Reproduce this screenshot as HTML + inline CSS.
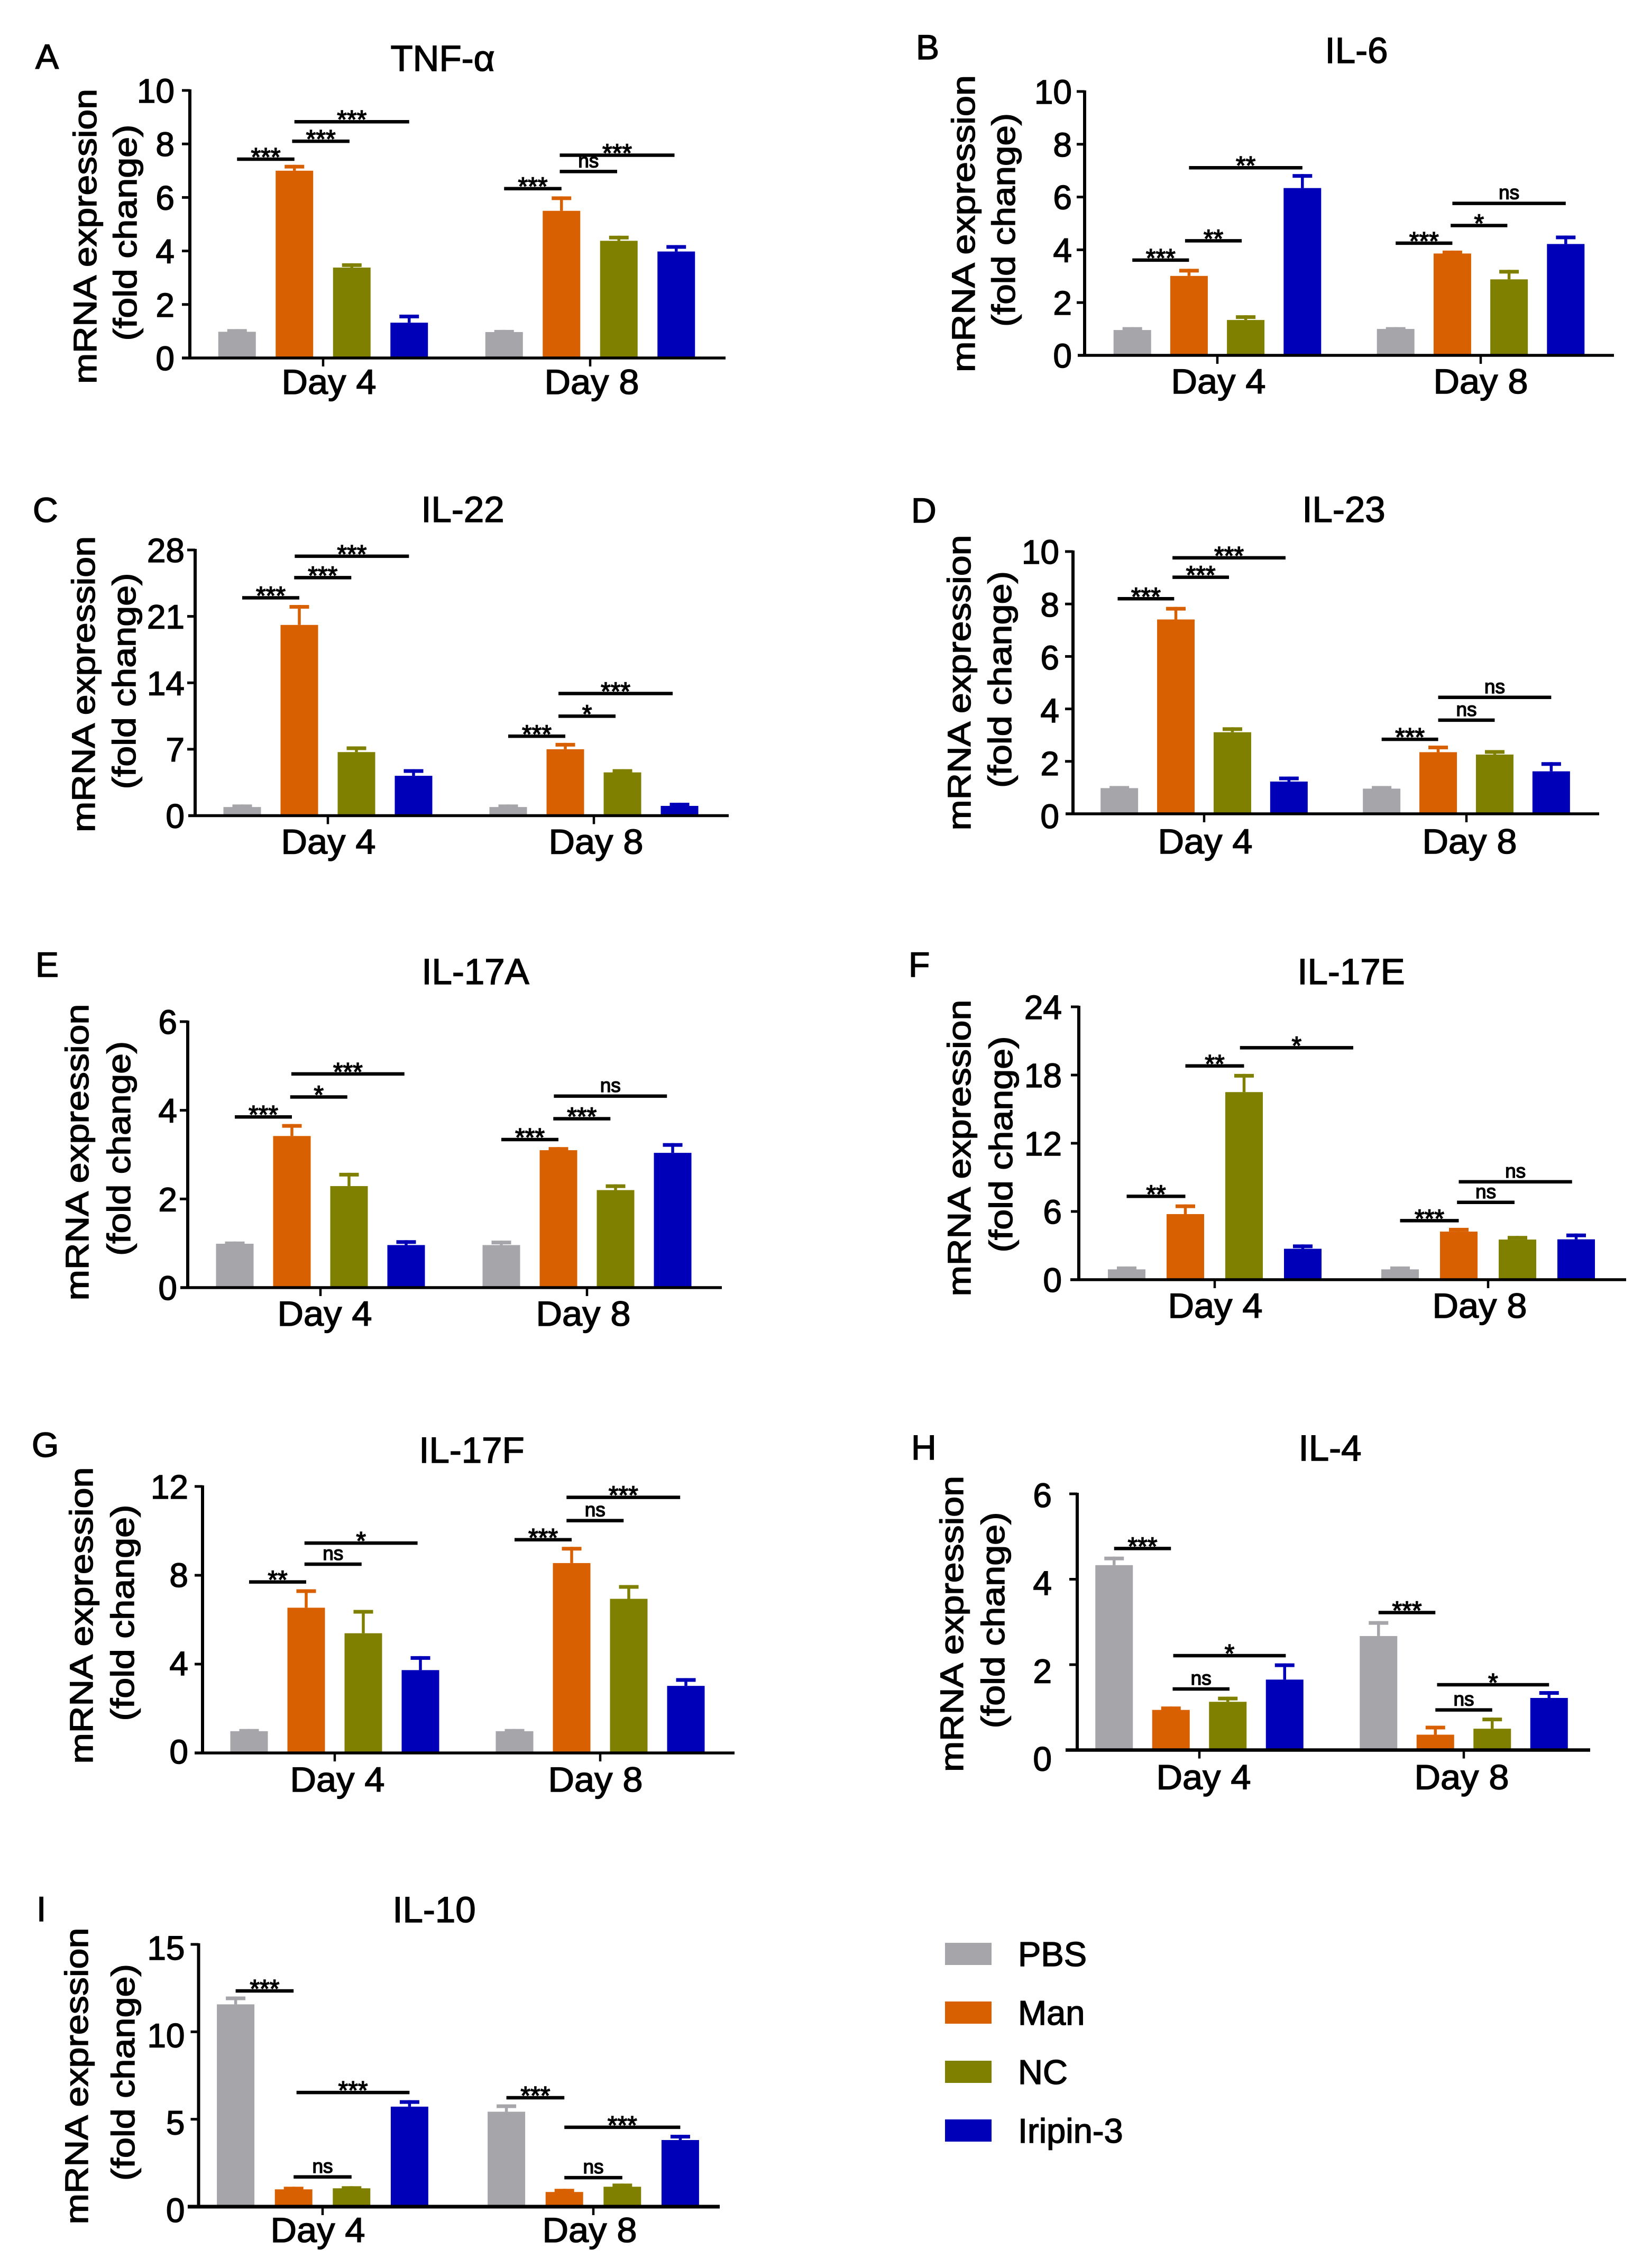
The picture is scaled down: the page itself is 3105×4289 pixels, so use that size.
<!DOCTYPE html>
<html lang="en">
<head>
<meta charset="utf-8">
<title>mRNA expression panels</title>
<style>
html,body{margin:0;padding:0;background:#fff}
svg{display:block}
text{font-family:"Liberation Sans",sans-serif;fill:#000;stroke:#000;stroke-width:1.5px}
</style>
</head>
<body>
<svg id="figure" xmlns="http://www.w3.org/2000/svg" width="3105" height="4289" viewBox="0 0 3105 4289"></svg>
<script>
// ---- shared categories ----
const seriesNames = ['PBS', 'Man', 'NC', 'Iripin-3'];
const seriesColors = ['#a6a6aa', '#d96000', '#808000', '#0000b8'];
const dayLabels = ['Day 4', 'Day 8'];
const yTitleLine1 = 'mRNA expression';
const yTitleLine2 = '(fold change)';

// ---- panel A : TNF-a ----
const tnfTicks = [0, 2, 4, 6, 8, 10];
const tnfDay4 = [0.98, 7.0, 3.38, 1.32];
const tnfDay8 = [0.97, 5.5, 4.38, 3.98];
const tnfDay4Upper = [1.08, 7.22, 3.54, 1.62];
const tnfDay8Upper = [1.05, 6.04, 4.57, 4.22];
const tnfSig = [[0,0,1,7.43,'***'],[0,0.96,1.96,8.1,'***'],[0,1,3,8.83,'***'],[1,0,1,6.33,'***'],[1,0.97,1.97,6.97,'ns'],[1,0.97,2.97,7.58,'***']];
// ---- panel B : IL-6 ----
const il6Ticks = [0, 2, 4, 6, 8, 10];
const il6Day4 = [0.96, 3.01, 1.34, 6.34];
const il6Day8 = [1.0, 3.86, 2.88, 4.22];
const il6Day4Upper = [1.07, 3.28, 1.52, 6.87];
const il6Day8Upper = [1.07, 3.97, 3.24, 4.54];
const il6Sig = [[0,0,1,3.61,'***'],[0,0.93,1.93,4.34,'**'],[0,1,3,7.11,'**'],[1,0,1,4.25,'***'],[1,0.97,1.97,4.92,'*'],[1,1,3,5.76,'ns']];
// ---- panel C : IL-22 ----
const il22Ticks = [0, 7, 14, 21, 28];
const il22Day4 = [0.91, 20.1, 6.7, 4.2];
const il22Day8 = [0.91, 7.0, 4.56, 1.03];
const il22Day4Upper = [1.18, 22.2, 7.3, 4.9];
const il22Day8Upper = [1.18, 7.67, 4.9, 1.36];
const il22Sig = [[0,0,1,22.96,'***'],[0,0.91,1.91,25.08,'***'],[0,0.92,2.92,27.34,'***'],[1,0,1,8.37,'***'],[1,0.88,1.88,10.48,'*'],[1,0.88,2.88,12.87,'***']];
// ---- panel D : IL-23 ----
const il23Ticks = [0, 2, 4, 6, 8, 10];
const il23Day4 = [0.98, 7.41, 3.11, 1.23];
const il23Day8 = [0.96, 2.35, 2.26, 1.62];
const il23Day4Upper = [1.06, 7.89, 3.3, 1.42];
const il23Day8Upper = [1.06, 2.6, 2.43, 1.97];
const il23Sig = [[0,-0.03,0.97,8.2,'***'],[0,0.94,1.94,9.02,'***'],[0,0.94,2.94,9.76,'***'],[1,0,1,2.84,'***'],[1,1,2,3.57,'ns'],[1,1,3,4.44,'ns']];
// ---- panel E : IL-17A ----
const il17aTicks = [0, 2, 4, 6];
const il17aDay4 = [0.99, 3.42, 2.29, 0.96];
const il17aDay8 = [0.96, 3.1, 2.2, 3.04];
const il17aDay4Upper = [1.04, 3.69, 2.59, 1.07];
const il17aDay8Upper = [1.06, 3.17, 2.33, 3.26];
const il17aSig = [[0,0,1,3.85,'***'],[0,0.97,1.97,4.3,'*'],[0,0.99,2.97,4.82,'***'],[1,0,1,3.34,'***'],[1,0.91,1.91,3.81,'***'],[1,0.92,2.9,4.32,'ns']];
// ---- panel F : IL-17E ----
const il17eTicks = [0, 6, 12, 18, 24];
const il17eDay4 = [0.91, 5.77, 16.5, 2.72];
const il17eDay8 = [0.91, 4.23, 3.53, 3.55];
const il17eDay4Upper = [1.16, 6.62, 18.1, 3.1];
const il17eDay8Upper = [1.16, 4.56, 3.85, 4.06];
const il17eSig = [[0,0,1,7.33,'**'],[0,1,2,18.8,'**'],[0,1.93,3.86,20.4,'*'],[1,0,1,5.19,'***'],[1,0.97,1.95,6.8,'ns'],[1,1,2.93,8.61,'ns']];
// ---- panel G : IL-17F ----
const il17fTicks = [0, 4, 8, 12];
const il17fDay4 = [0.98, 6.54, 5.39, 3.73];
const il17fDay8 = [0.98, 8.55, 6.94, 3.02];
const il17fDay4Upper = [1.08, 7.37, 6.44, 4.36];
const il17fDay8Upper = [1.08, 9.28, 7.56, 3.37];
const il17fSig = [[0,0,1,7.7,'**'],[0,0.97,1.97,8.5,'ns'],[0,0.97,2.95,9.45,'*'],[1,0,1,9.6,'***'],[1,0.91,1.91,10.46,'ns'],[1,0.91,2.9,11.51,'***']];
// ---- panel H : IL-4 ----
const il4Ticks = [0, 2, 4, 6];
const il4Day4 = [4.33, 0.94, 1.13, 1.65];
const il4Day8 = [2.67, 0.36, 0.5, 1.22];
const il4Day4Upper = [4.53, 1.02, 1.25, 2.03];
const il4Day8Upper = [3.02, 0.57, 0.76, 1.38];
const il4Sig = [[0,0,1,4.72,'***'],[0,1.03,2.03,1.43,'ns'],[0,1.04,3.02,2.21,'*'],[1,0,1,3.22,'***'],[1,1,2,0.94,'ns'],[1,1.03,3,1.53,'*']];
// ---- panel I : IL-10 ----
const il10Ticks = [0, 5, 10, 15];
const il10Day4 = [11.57, 0.99, 1.05, 5.72];
const il10Day8 = [5.43, 0.84, 1.14, 3.81];
const il10Day4Upper = [12.02, 1.14, 1.17, 6.09];
const il10Day8Upper = [5.85, 1.02, 1.32, 4.11];
const il10Sig = [[0,0,1,12.34,'***'],[0,1,2,1.7,'ns'],[0,1.05,3,6.53,'***'],[1,0,1,6.23,'***'],[1,1,2,1.66,'ns'],[1,1,3,4.54,'***']];

// ---- panels: data + page layout ----
const panels = [
 {id:'a',letter:'A',title:'TNF-α',ticks:tnfTicks,d4:tnfDay4,d8:tnfDay8,u4:tnfDay4Upper,u8:tnfDay8Upper,sig:tnfSig,
  ax:359,top:171,base:677,t1:611,t2:1116,xs:344,xe:1372,step:108.5,pad:29,xlw:5.5,xlb:68,xo:[11,3],zs:0,zc:0,
  l1:[182,447,558],l2:[258,440,409],tt:[837,134],lt:[67,130]},
 {id:'b',letter:'B',title:'IL-6',ticks:il6Ticks,d4:il6Day4,d8:il6Day8,u4:il6Day4Upper,u8:il6Day8Upper,sig:il6Sig,
  ax:2051,top:173,base:672,t1:2302,t2:2800,xs:2038,xe:3052,step:107.2,pad:24,xlw:5.5,xlb:72,xo:[2,0],zs:0,zc:0,
  l1:[1843,423,562],l2:[1919,416,404],tt:[2565,119],lt:[1732,112]},
 {id:'c',letter:'C',title:'IL-22',ticks:il22Ticks,d4:il22Day4,d8:il22Day8,u4:il22Day4Upper,u8:il22Day8Upper,sig:il22Sig,
  ax:369,top:1040,base:1542.5,t1:620,t2:1123,xs:356,xe:1378,step:108,pad:20,xlw:5.5,xlb:72,xo:[1,4],zs:0,zc:0,
  l1:[179,1294,560],l2:[256,1288,409],tt:[875,987],lt:[62,987]},
 {id:'d',letter:'D',title:'IL-23',ticks:il23Ticks,d4:il23Day4,d8:il23Day8,u4:il23Day4Upper,u8:il23Day8Upper,sig:il23Sig,
  ax:2029,top:1043,base:1539,t1:2277,t2:2773,xs:2015,xe:3024,step:106.9,pad:26,xlw:5.5,xlb:75,xo:[2,6],zs:4,zc:0,
  l1:[1835,1291,559],l2:[1912,1285,410],tt:[2541,987],lt:[1723,988]},
 {id:'e',letter:'E',title:'IL-17A',ticks:il17aTicks,d4:il17aDay4,d8:il17aDay8,u4:il17aDay4Upper,u8:il17aDay8Upper,sig:il17aSig,
  ax:355,top:1932,base:2435,t1:606,t2:1110,xs:341,xe:1365,step:108,pad:20,xlw:5.5,xlb:72,xo:[8,-7],zs:0,zc:0,
  l1:[167,2179,561],l2:[246,2172,406],tt:[899,1861],lt:[67,1847]},
 {id:'f',letter:'F',title:'IL-17E',ticks:il17eTicks,d4:il17eDay4,d8:il17eDay8,u4:il17eDay4Upper,u8:il17eDay8Upper,sig:il17eSig,
  ax:2040,top:1904,base:2420,t1:2297,t2:2814,xs:2024,xe:3075,step:111,pad:32,xlw:5.5,xlb:72,xo:[1,-16],zs:0,zc:0,
  l1:[1835,2171,561],l2:[1914,2164,409],tt:[2555,1861],lt:[1718,1847]},
 {id:'g',letter:'G',title:'IL-17F',ticks:il17fTicks,d4:il17fDay4,d8:il17fDay8,u4:il17fDay4Upper,u8:il17fDay8Upper,sig:il17fSig,
  ax:383,top:2811,base:3315,t1:633,t2:1135,xs:368,xe:1389,step:108,pad:27,xlw:5.5,xlb:73,xo:[5,-9],zs:-3,zc:0,
  l1:[175,3055,561],l2:[253,3050,409],tt:[892,2766],lt:[60,2755]},
 {id:'h',letter:'H',title:'IL-4',ticks:il4Ticks,d4:il4Day4,d8:il4Day8,u4:il4Day4Upper,u8:il4Day8Upper,sig:il4Sig,
  ax:2037,top:2825,base:3309.5,t1:2268,t2:2768,xs:2015,xe:3007,step:107.5,pad:48,xlw:6.5,xlb:74,xo:[8,-4],zs:14,zc:2,
  l1:[1821,3071,560],l2:[1899,3064,409],tt:[2515,2762],lt:[1723,2760]},
 {id:'i',letter:'I',title:'IL-10',ticks:il10Ticks,d4:il10Day4,d8:il10Day8,u4:il10Day4Upper,u8:il10Day8Upper,sig:il10Sig,
  ax:375.5,top:3677,base:4173,t1:610,t2:1122,xs:355,xe:1361,step:109.6,pad:26,xlw:7,xlb:67,xo:[-9,-7],zs:0,zc:6,
  l1:[166,3926,561],l2:[254,3919,410],tt:[821,3635],lt:[69,3633]}
];

const NS = 'http://www.w3.org/2000/svg';
const root = document.getElementById('figure');
const BAR_W = 71, CAP_W = 37, CAP_H = 7, STEM_W = 5.5;

function make(tag, attrs, parent, content) {
  const el = document.createElementNS(NS, tag);
  for (const k in attrs) el.setAttribute(k, attrs[k]);
  if (content !== undefined) el.textContent = content;
  parent.appendChild(el);
  return el;
}

panels.forEach(function (p) {
  const g = make('g', {}, root);
  
  

  const yMax = p.ticks[p.ticks.length - 1];
  const yScale = function (v) { return p.base - (v / yMax) * (p.base - p.top); };
  const barCentre = function (day, i) { return (day === 0 ? p.t1 : p.t2) + (i - 1.5) * p.step; };

  const letter = make('text', {x: p.lt[0], y: p.lt[1], 'font-size': 66}, g, p.letter);
  
  

  const title = make('text', {x: p.tt[0], y: p.tt[1], 'font-size': 69, 'text-anchor': 'middle'}, g, p.title);
  
  

  const yt1 = make('text', {transform: 'translate(' + p.l1[0] + ',' + p.l1[1] + ') rotate(-90)', 'font-size': 61, 'text-anchor': 'middle', textLength: p.l1[2], lengthAdjust: 'spacingAndGlyphs'}, g, yTitleLine1);
  
  

  const yt2 = make('text', {transform: 'translate(' + p.l2[0] + ',' + p.l2[1] + ') rotate(-90)', 'font-size': 61, 'text-anchor': 'middle', textLength: p.l2[2], lengthAdjust: 'spacingAndGlyphs'}, g, yTitleLine2);
  
  

  // bars and error bars
  [[p.d4, p.u4], [p.d8, p.u8]].forEach(function (pair, day) {
    pair[0].forEach(function (v, i) {
      const cx = barCentre(day, i);
      const colour = seriesColors[i];
      const upper = pair[1][i];

      const stem = make('rect', {x: cx - STEM_W / 2, y: yScale(upper), width: STEM_W, height: yScale(v) - yScale(upper), fill: colour}, g);
      
      

      const cap = make('rect', {x: cx - CAP_W / 2, y: yScale(upper), width: CAP_W, height: CAP_H, fill: colour}, g);
      
      

      const bar = make('rect', {x: cx - BAR_W / 2, y: yScale(v), width: BAR_W, height: p.base - yScale(v), fill: colour}, g);
      
      
    });
  });

  // axes
  const yAxis = make('line', {x1: p.ax, x2: p.ax, y1: p.top - 2, y2: p.base, stroke: '#000', 'stroke-width': 6}, g);
  
  

  const xAxis = make('line', {x1: p.xs, x2: p.xe, y1: p.base, y2: p.base, stroke: '#000', 'stroke-width': p.xlw}, g);
  
  

  p.ticks.forEach(function (t) {
    const y = yScale(t);
    if (t !== 0) {
      const mark = make('line', {x1: p.ax - 15, x2: p.ax, y1: y, y2: y, stroke: '#000', 'stroke-width': 5}, g);
      
      
    }
    const labelY = y + 23 + p.zc + p.zs * (1 - t / yMax);
    const lab = make('text', {x: p.ax - p.pad, y: labelY, 'font-size': 64, 'text-anchor': 'end'}, g, String(t));
    
    
  });

  dayLabels.forEach(function (name, day) {
    const tx = day === 0 ? p.t1 : p.t2;
    const mark = make('line', {x1: tx, x2: tx, y1: p.base, y2: p.base + 16, stroke: '#000', 'stroke-width': 4.5}, g);
    
    

    const lab = make('text', {x: tx + p.xo[day], y: p.base + p.xlb, 'font-size': 66, 'text-anchor': 'middle', textLength: 179, lengthAdjust: 'spacingAndGlyphs'}, g, name);
    
    
  });

  // significance brackets
  p.sig.forEach(function (s) {
    const x1 = barCentre(s[0], s[1]);
    const x2 = barCentre(s[0], s[2]);
    const y = yScale(s[3]);
    const isNs = s[4] === 'ns';

    const line = make('line', {x1: x1, x2: x2, y1: y, y2: y, stroke: '#000', 'stroke-width': 6.5}, g);
    
    

    const label = make('text', {x: (x1 + x2) / 2, y: isNs ? y - 8 : y + 12, 'font-size': isNs ? 37 : 48, 'text-anchor': 'middle'}, g, s[4]);
    
    
  });
});

// legend
const legendRows = [3674, 3785, 3897, 4008];
const legendGroup = make('g', {}, root);


seriesNames.forEach(function (name, i) {
  const swatch = make('rect', {x: 1787, y: legendRows[i], width: 88, height: 42, fill: seriesColors[i]}, legendGroup);
  
  

  const lab = make('text', {x: 1925, y: legendRows[i] + 44, 'font-size': 65}, legendGroup, name);
  
  
});
</script>
</body>
</html>
